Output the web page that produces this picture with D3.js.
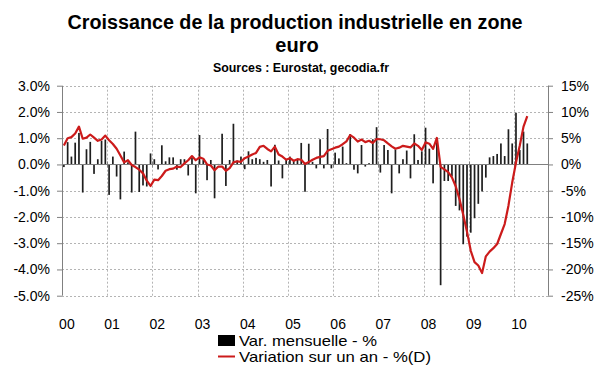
<!DOCTYPE html>
<html>
<head>
<meta charset="utf-8">
<script src="https://cdn.jsdelivr.net/npm/d3@7"></script>
<style>
  body { margin: 0; background: #fff; }
  svg { display: block; font-family: "Liberation Sans", Arial, sans-serif; }
  .axis path, .axis line { stroke: #808080; }
  .axis text { font-size: 14px; fill: #000; }
</style>
</head>
<body>
<div id="chart"></div>
<script>
// year labels on the category axis
var yearLabels = ["00", "01", "02", "03", "04", "05", "06", "07", "08", "09", "10"];

// monthly change (%), Jan 2000 -> Apr 2010, left axis
var monthlyChange = [
  -0.1, 0.85, 0.3, 0.83, 1.2, -1.07, 0.58, 0.86, -0.36, 0.2, 0.9, 0.95,
  -1.16, 0.3, -0.46, -1.33, 0.49, 0.08, -1.07, 1.25, -1.05, -0.8, -0.84, 0.42,
  0.2, -0.19, 0.73, 0.12, 0.27, 0.27, -0.2, 0.2, 0.2, -0.42, 0.25, -1.1,
  1.12, 0.17, -0.6, 0.17, -1.29, 0.02, 1.17, -0.82, 0.17, 1.55, 0.15, 0.3,
  -0.18, 0.5, 0.2, 0.25, 0.2, 0.1, 0.17, -0.84, 0.75, 0.15, -0.53, 0.2,
  0.3, 0.15, 0.17, 0.82, -1.04, 0.79, 0.1, -0.15, 0.96, -0.15, 1.35, -0.15,
  0.45, 0.23, 0.68, 0.05, 1.16, -0.2, -0.34, 0.74, -0.08, 0.05, 0.96, 1.42,
  -0.31, 0.74, 0.55, -1.1, 0.57, -0.34, 0.2, 0.53, -0.53, 1.15, 0.17, 0.5,
  1.4, 0.6, -0.72, 1.0, -4.6, -0.63, -0.63, -0.46, -1.58, -1.75, -3.04, -2.75,
  -2.6, -2.05, -1.5, -1.03, -0.5, 0.27, 0.32, 0.4, 0.8, 0.32, 1.34, 0.8,
  1.97, 0.55, 1.25, 0.8
];

// year-on-year change (%), same months, right axis
var yearlyChange = [
  3.6, 5.0, 5.2, 5.9, 7.2, 4.9, 5.1, 5.7, 5.1, 4.5, 4.75, 5.5,
  4.6, 3.9, 3.0, 1.7, 0.4, 0.8, -0.1, -0.5, -1.0, -1.7, -3.1, -4.1,
  -2.9, -3.0, -2.2, -1.2, -0.9, -0.8, -0.4, -0.5, 0.2, 0.8, 1.6, 0.8,
  1.35, 1.1, 0.0, -0.2, -1.1, -0.4, -0.4, -1.2, -0.7, 0.4, 0.6, 0.5,
  1.2, 1.5, 1.9, 2.2, 3.35, 3.55, 2.95, 2.5, 3.4, 1.9, 1.5, 0.9,
  1.2, 0.7, 1.0, 0.9, 0.1, 0.45, 0.9, 1.25, 1.45, 1.6, 2.6, 2.9,
  3.2, 3.4, 3.85, 4.4, 5.6, 5.1, 4.35, 4.75, 4.25, 4.5, 4.1, 4.85,
  4.8, 4.6, 4.0, 3.45, 3.0, 3.2, 3.55, 3.4, 3.25, 4.0, 3.55, 2.75,
  4.2, 3.95, 2.95, 5.05, -0.45, -0.95, -1.45, -2.45, -4.15, -6.6, -9.6, -12.8,
  -16.45, -18.6, -19.25, -20.7, -17.5, -16.6, -15.95, -15.15, -13.25, -11.35, -7.85, -3.45,
  0.35, 3.55, 7.2, 9.2
];

var leftTicks = [-5, -4, -3, -2, -1, 0, 1, 2, 3];
var rightTicks = [-25, -20, -15, -10, -5, 0, 5, 10, 15];

var width = 600, height = 372;
var margin = {top: 85.7, right: 52, bottom: 76.3, left: 62};

// axis runs Jan 2000 -> Sep 2010 (129 months), data stops earlier
var months = d3.timeMonth.range(new Date(2000, 0, 1), new Date(2010, 9, 1));

var svg = d3.select("#chart").append("svg")
    .attr("width", width)
    .attr("height", height);

var x = d3.scaleBand()
    .domain(d3.range(months.length))
    .range([margin.left, width - margin.right]);

var yL = d3.scaleLinear().domain([-5, 3]).range([height - margin.bottom, margin.top]);
var yR = d3.scaleLinear().domain([-25, 15]).range([height - margin.bottom, margin.top]);

// title
svg.append("text")
    .attr("x", 295).attr("y", 29)
    .attr("text-anchor", "middle")
    .attr("font-size", 20).attr("font-weight", "bold")
    .attr("textLength", 455).attr("lengthAdjust", "spacingAndGlyphs")
    .text("Croissance de la production industrielle en zone");
svg.append("text")
    .attr("x", 297).attr("y", 52)
    .attr("text-anchor", "middle")
    .attr("font-size", 20).attr("font-weight", "bold")
    .text("euro");
svg.append("text")
    .attr("x", 301).attr("y", 72)
    .attr("text-anchor", "middle")
    .attr("font-size", 12).attr("font-weight", "bold")
    .attr("textLength", 176).attr("lengthAdjust", "spacingAndGlyphs")
    .text("Sources : Eurostat, gecodia.fr");

// gridlines
var grid = svg.append("g")
    .attr("stroke", "#b4b4b4")
    .attr("stroke-dasharray", "2,2")
    .attr("stroke-width", 1);

grid.selectAll(".hgrid")
    .data(leftTicks.filter(function (d) { return d != 0; }))
    .enter().append("line")
    .attr("x1", margin.left).attr("x2", width - margin.right)
    .attr("y1", function (d) { return Math.round(yL(d)) + 0.5; })
    .attr("y2", function (d) { return Math.round(yL(d)) + 0.5; });

grid.selectAll(".vgrid")
    .data(d3.range(1, yearLabels.length))
    .enter().append("line")
    .attr("x1", function (k) { return Math.round(x(k * 12)) + 0.5; })
    .attr("x2", function (k) { return Math.round(x(k * 12)) + 0.5; })
    .attr("y1", margin.top).attr("y2", height - margin.bottom);

// monthly bars
var barW = 1.7;
svg.append("g").selectAll("rect")
    .data(monthlyChange)
    .enter().append("rect")
    .attr("x", function (d, i) { return x(i) + x.bandwidth() / 2 - barW / 2; })
    .attr("width", barW)
    .attr("y", function (d) { return yL(Math.max(0, d)); })
    .attr("height", function (d) { return Math.abs(yL(d) - yL(0)); })
    .attr("fill", "#1e1e1e");

// category axis on the zero line
var zeroY = Math.round(yL(0)) + 0.5;
svg.append("line")
    .attr("x1", margin.left).attr("x2", width - margin.right)
    .attr("y1", zeroY).attr("y2", zeroY)
    .attr("stroke", "#808080");
svg.append("g").selectAll("line")
    .data(d3.range(1, yearLabels.length))
    .enter().append("line")
    .attr("x1", function (k) { return Math.round(x(k * 12)) + 0.5; })
    .attr("x2", function (k) { return Math.round(x(k * 12)) + 0.5; })
    .attr("y1", zeroY - 3).attr("y2", zeroY + 3)
    .attr("stroke", "#808080");

// yearly change line
var line = d3.line()
    .x(function (d, i) { return x(i) + x.bandwidth() / 2; })
    .y(function (d) { return yR(d); });

svg.append("path")
    .datum(yearlyChange)
    .attr("d", line)
    .attr("fill", "none")
    .attr("stroke", "#cc1b1b")
    .attr("stroke-width", 2.2)
    .attr("stroke-linejoin", "round");

// axes
svg.append("g")
    .attr("class", "axis")
    .attr("transform", "translate(" + margin.left + ",0)")
    .call(d3.axisLeft(yL).tickValues(leftTicks).tickSizeOuter(0).tickSize(5).tickPadding(7)
        .tickFormat(function (d) { return d.toFixed(1) + "%"; }))
    .call(function (g) { g.select(".domain").attr("d", "M0.5," + margin.top + "V" + (height - margin.bottom)); });

svg.append("g")
    .attr("class", "axis")
    .attr("transform", "translate(" + (width - margin.right) + ",0)")
    .call(d3.axisRight(yR).tickValues(rightTicks).tickSizeOuter(0).tickSize(5).tickPadding(8)
        .tickFormat(function (d) { return d + "%"; }))
    .call(function (g) { g.select(".domain").attr("d", "M0.5," + margin.top + "V" + (height - margin.bottom)); });

// year labels
svg.append("g").selectAll("text")
    .data(yearLabels)
    .enter().append("text")
    .attr("x", function (d, k) { return x(k * 12) + x.bandwidth() / 2 + 3; })
    .attr("y", 329)
    .attr("text-anchor", "middle")
    .attr("font-size", 14)
    .text(function (d) { return d; });

// legend
var legend = svg.append("g").attr("font-size", 14.5);
legend.append("rect")
    .attr("x", 218).attr("y", 335).attr("width", 17).attr("height", 11)
    .attr("fill", "#000");
legend.append("text")
    .attr("x", 239).attr("y", 346)
    .attr("textLength", 138).attr("lengthAdjust", "spacingAndGlyphs")
    .text("Var. mensuelle - %");
legend.append("line")
    .attr("x1", 218).attr("x2", 235).attr("y1", 356.5).attr("y2", 356.5)
    .attr("stroke", "#cc1b1b").attr("stroke-width", 2);
legend.append("text")
    .attr("x", 239).attr("y", 362)
    .attr("textLength", 192).attr("lengthAdjust", "spacingAndGlyphs")
    .text("Variation sur un an - %(D)");
</script>
</body>
</html>
